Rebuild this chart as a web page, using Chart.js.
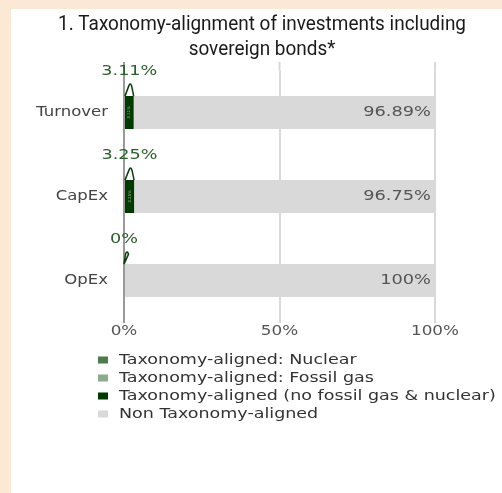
<!DOCTYPE html>
<html>
<head>
<meta charset="utf-8">
<script src="https://cdn.jsdelivr.net/npm/chart.js@4"></script>
<style>
  html, body { margin: 0; padding: 0; }
  body { background: #fbe8d5; width: 502px; height: 493px; position: relative; overflow: hidden; }
  #wrap { position: absolute; left: 11px; top: 9px; width: 491px; height: 484px; background: #fff; }
</style>
</head>
<body>
<div id="wrap"><canvas id="chart" width="491" height="484"></canvas></div>
<script>
const categories = ['Turnover', 'CapEx', 'OpEx'];
const nuclear = [0, 0, 0];
const fossilGas = [0, 0, 0];
const aligned = [3.11, 3.25, 0];
const nonAligned = [96.89, 96.75, 100];
const xTicks = [0, 50, 100];

const titleLines = ['1. Taxonomy-alignment of investments including', 'sovereign bonds*'];
const FONT = '14px "DejaVu Sans"';
const SX = 1.2; // the text in the original is drawn a little wide

const fmt = v => +v.toFixed(2) + '%';

// draw text stretched sideways around its anchor
function wideText(ctx, text, x, y, align, sx) {
  ctx.save();
  ctx.translate(x, y);
  ctx.scale(sx || SX, 1);
  ctx.textAlign = align;
  ctx.fillText(text, 0, 0);
  ctx.restore();
}

// grid lines and axis line reach a bit above the bars
const gridTop = {
  id: 'gridTop',
  beforeDatasetsDraw(chart) {
    const ctx = chart.ctx;
    const x = chart.scales.x;
    const top = chart.chartArea.top;
    ctx.save();
    xTicks.forEach(t => {
      const px = x.getPixelForValue(t);
      ctx.strokeStyle = t === 0 ? '#9a9a9a' : '#d9d9d9';
      ctx.lineWidth = 2;
      ctx.beginPath();
      ctx.moveTo(px, 53);
      ctx.lineTo(px, top);
      ctx.stroke();
    });
    ctx.restore();
  }
};

// tick labels for both axes
const tickText = {
  id: 'tickText',
  afterDraw(chart) {
    const ctx = chart.ctx;
    const { x, y } = chart.scales;
    ctx.save();
    ctx.font = FONT;
    ctx.textBaseline = 'middle';
    ctx.fillStyle = '#444';
    categories.forEach((c, i) => {
      wideText(ctx, c, x.left - 16, y.getPixelForTick(i), 'right', 1.18);
    });
    ctx.fillStyle = '#555';
    xTicks.forEach(t => {
      wideText(ctx, t + '%', x.getPixelForValue(t), chart.chartArea.bottom + 9, 'center');
    });
    ctx.restore();
  }
};

const labels = {
  id: 'labels',
  afterDatasetsDraw(chart) {
    const ctx = chart.ctx;
    ctx.save();

    // callouts for aligned share
    const m = chart.getDatasetMeta(2);
    m.data.forEach((bar, i) => {
      const p = bar.getProps(['x', 'y', 'base', 'height'], true);
      const left = Math.min(p.base, p.x);
      const w = Math.abs(p.x - p.base);
      const top = p.y - p.height / 2;
      const cx = left + w / 2;
      const tipX = left + Math.max(w * 0.6, 3);
      const tipY = top - 13;
      ctx.beginPath();
      ctx.moveTo(left, top);
      ctx.lineTo(tipX - 1.5, tipY + 3);
      ctx.quadraticCurveTo(tipX, tipY - 1, tipX + 1.5, tipY + 3);
      ctx.lineTo(left + w, top);
      ctx.fillStyle = '#fff';
      ctx.fill();
      ctx.strokeStyle = '#0a3d0a';
      ctx.lineWidth = 1.5;
      ctx.stroke();

      ctx.font = FONT;
      ctx.fillStyle = '#2a5e2a';
      ctx.textBaseline = 'middle';
      wideText(ctx, fmt(aligned[i]), cx, top - 25, 'center', 1.26);

      if (w > 3) {
        ctx.save();
        ctx.translate(cx, p.y);
        ctx.rotate(-Math.PI / 2);
        ctx.font = '4px "DejaVu Sans"';
        ctx.textAlign = 'center';
        ctx.fillStyle = '#9fb09f';
        ctx.fillText(fmt(aligned[i]), 0, 0);
        ctx.restore();
      }
    });

    // values at the end of the grey bars
    const n = chart.getDatasetMeta(3);
    n.data.forEach((bar, i) => {
      const p = bar.getProps(['x', 'y'], true);
      ctx.font = FONT;
      ctx.fillStyle = '#555';
      ctx.textBaseline = 'middle';
      wideText(ctx, fmt(nonAligned[i]), p.x - 4, p.y, 'right', 1.27);
    });
    ctx.restore();
  }
};

const extras = {
  id: 'extras',
  afterDraw(chart) {
    const ctx = chart.ctx;
    ctx.save();
    ctx.fillStyle = '#1a1a1a';
    ctx.font = '21px Roboto';
    ctx.textBaseline = 'alphabetic';
    const sx = 408 / ctx.measureText(titleLines[0]).width;
    titleLines.forEach((t, i) => {
      wideText(ctx, t, 251, 21 + i * 25, 'center', sx);
    });

    // legend
    ctx.font = FONT;
    ctx.textBaseline = 'middle';
    chart.data.datasets.forEach((ds, i) => {
      const y = 351 + i * 18;
      ctx.fillStyle = ds.backgroundColor;
      ctx.fillRect(87, y - 3.5, 10, 7);
      ctx.fillStyle = '#333';
      wideText(ctx, ds.label, 108, y, 'left', 1.25);
    });
    ctx.restore();
  }
};

new Chart(document.getElementById('chart'), {
  type: 'bar',
  data: {
    labels: categories,
    datasets: [
      { label: 'Taxonomy-aligned: Nuclear', data: nuclear, backgroundColor: '#4e7b4e' },
      { label: 'Taxonomy-aligned: Fossil gas', data: fossilGas, backgroundColor: '#8caa8c' },
      { label: 'Taxonomy-aligned (no fossil gas & nuclear)', data: aligned, backgroundColor: '#003a00' },
      { label: 'Non Taxonomy-aligned', data: nonAligned, backgroundColor: '#d9d9d9' }
    ]
  },
  options: {
    indexAxis: 'y',
    responsive: false,
    animation: false,
    datasets: { bar: { categoryPercentage: 1, barPercentage: 0.39 } },
    layout: { padding: { left: 0, top: 61.5, right: 67, bottom: 140.5 } },
    plugins: {
      legend: { display: false },
      title: { display: false },
      tooltip: { enabled: false }
    },
    scales: {
      x: {
        stacked: true,
        min: 0,
        max: 100,
        afterBuildTicks: s => { s.ticks = xTicks.map(v => ({ value: v })); },
        afterFit: s => { s.height = 30; },
        ticks: { display: false },
        grid: { color: '#d9d9d9', lineWidth: 2, drawTicks: false },
        border: { display: false }
      },
      y: {
        stacked: true,
        afterFit: s => { s.width = 113; },
        ticks: { display: false },
        grid: { display: false, drawTicks: false },
        border: { display: true, color: '#9a9a9a', width: 2 }
      }
    }
  },
  plugins: [gridTop, labels, tickText, extras]
});
</script>
</body>
</html>
